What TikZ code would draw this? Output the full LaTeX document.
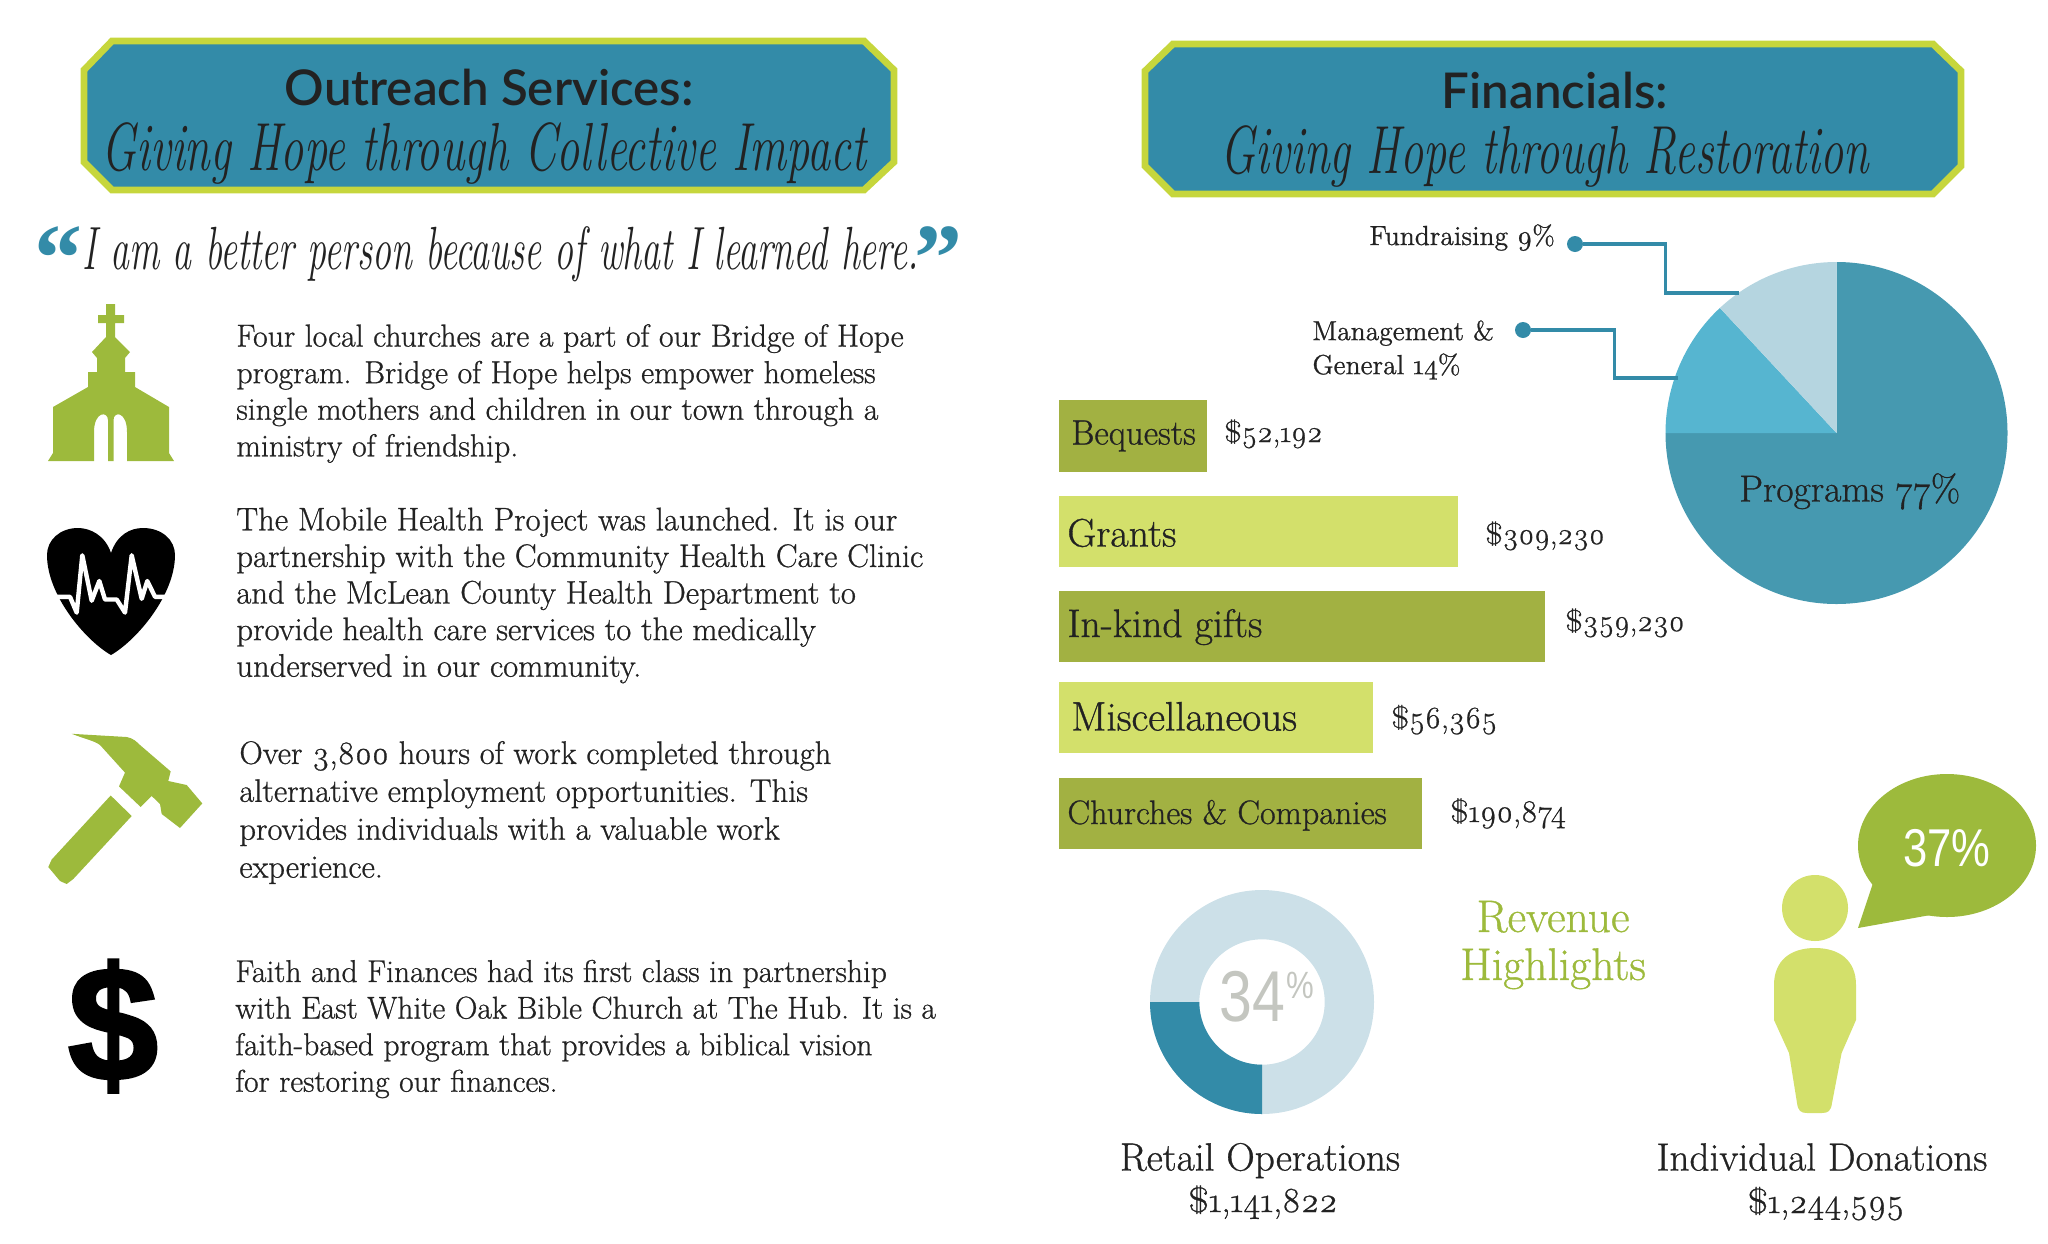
\documentclass[tikz,border=0pt]{standalone}
\usepackage{fontspec}
\setmainfont{Latin Modern Roman}[Numbers=OldStyle,FakeBold=0.8]
\newfontfamily\titlefont{Lato Semibold}
\newfontfamily\handfont{Latin Modern Roman}[FakeStretch=0.62]
\newfontfamily\handwide{Latin Modern Roman}[FakeStretch=0.68]
\newfontfamily\narrowfont{Liberation Sans}[FakeStretch=0.82]
\newfontfamily\quotefont{Liberation Serif}
\newfontfamily\iconfont{Liberation Sans}[FakeBold=2]
\definecolor{teal}{HTML}{338BA8}
\definecolor{lime}{HTML}{C6D63C}
\definecolor{olive}{HTML}{A2B142}
\definecolor{pale}{HTML}{D3E06B}
\definecolor{leaf}{HTML}{9DBA3C}
\definecolor{ink}{HTML}{222222}
\definecolor{pieMain}{HTML}{4699B0}
\definecolor{pieMid}{HTML}{56B5D0}
\definecolor{pieLight}{HTML}{B5D5E0}
\definecolor{ring}{HTML}{CCE0E8}
\definecolor{ash}{HTML}{C4C6C0}
\begin{document}
\begin{tikzpicture}
  [x=0.5pt, y=-0.5pt,
   banner/.style={fill=teal, draw=lime, line width=3.4pt, line join=miter},
   title/.style={font=\titlefont\fontsize{24.6}{28}\selectfont, text=ink, anchor=base, inner sep=0},
   hand/.style={font=\handwide\itshape\fontsize{34}{38}\selectfont, text=ink, anchor=base, inner sep=0},
   quote mark/.style={font=\quotefont\bfseries\fontsize{48}{48}\selectfont, text=teal, anchor=base, inner sep=0},
   body text/.style={text=ink, align=left, anchor=west, inner sep=0},
   bar dark/.style={fill=olive},
   bar pale/.style={fill=pale},
   label/.style={text=ink, anchor=base west, inner sep=0},
   dot/.style={circle, fill=teal, minimum size=8pt, inner sep=0},
   leader/.style={draw=teal, line width=1.8pt}]
  \useasboundingbox (0, 0) rectangle (2048, 1243);

  \draw[banner] (112, 41) -- (864, 41) -- (894, 70) -- (894, 162) -- (864, 190) -- (112, 190) -- (84, 162) -- (84, 70) -- cycle;
  \draw[banner] (1173, 44) -- (1933, 44) -- (1961, 71) -- (1961, 166) -- (1933, 194) -- (1173, 194) -- (1145, 166) -- (1145, 71) -- cycle;
  \node[title] (outreachTitle) at (489, 105) {Outreach Services:};
  \node[hand] (outreachHand) at (484, 170) {Giving Hope through Collective Impact};
  \node[title] (financeTitle) at (1555, 108) {Financials:};
  \node[hand] (financeHand) at (1545, 173) {Giving Hope through Restoration};

  \node[quote mark] (quoteOpen) at (58, 290) {“};
  \node[hand, font=\handfont\itshape\fontsize{30.5}{34}\selectfont] (quoteText) at (501, 269) {I am a better person because of what I learned here.};
  \node[quote mark] (quoteClose) at (938, 290) {”};

  \fill[leaf] (106, 304) -- (115, 304) -- (115, 315) -- (124, 315) -- (124, 323) -- (115, 323) -- (115, 337) -- (130, 352) -- (125, 358) -- (125, 372) -- (135, 372) -- (135, 387) -- (169, 407) -- (169, 453) -- (174, 461) -- (127, 461) -- (127, 432) .. controls (127, 411) and (113.5, 411) .. (113.5, 420) -- (113.5, 461) -- (108, 461) -- (108, 420) .. controls (108, 411) and (94, 411) .. (94, 432) -- (94, 461) -- (48, 461) -- (53, 453) -- (53, 407) -- (88, 387) -- (88, 372) -- (97, 372) -- (97, 358) -- (92, 352) -- (106, 337) -- (106, 323) -- (98, 323) -- (98, 315) -- (106, 315) -- cycle;
  \node[body text, font=\fontsize{15.9}{18.3}\selectfont] (churchText) at (236, 393.5) {Four local churches are a part of our Bridge of Hope\\program. Bridge of Hope helps empower homeless\\single mothers and children in our town through a\\ministry of friendship.};

  \fill[black] (111, 553) .. controls (105, 535) and (90, 528) .. (78, 528) .. controls (60, 528) and (47, 540) .. (47, 555) .. controls (47, 595) and (85, 640) .. (111, 655) .. controls (137, 640) and (175, 595) .. (175, 555) .. controls (175, 540) and (162, 528) .. (143, 528) .. controls (130, 528) and (117, 535) .. (111, 553) -- cycle;
  \draw[white, line width=2.2pt, line join=round] (56.7, 596.8) -- (70, 596.8) -- (76.7, 612.6) -- (82.3, 555.3) -- (91.7, 600.7) -- (99.3, 581) -- (105, 599.5) -- (116.7, 599.5) -- (125, 612.6) -- (131.7, 555.3) -- (141.7, 598.8) -- (147.3, 581) -- (155, 596.8) -- (166.7, 596.8);
  \node[body text, font=\fontsize{16.3}{18.3}\selectfont] (healthText) at (236, 595.5) {The Mobile Health Project was launched. It is our\\partnership with the Community Health Care Clinic\\and the McLean County Health Department to\\provide health care services to the medically\\underserved in our community.};

  \fill[leaf] (71.7, 733.8) -- (126.7, 737) .. controls (133, 738) and (137, 742) .. (140, 745) -- (170.7, 771.4) -- (168.3, 781) -- (186.7, 785) -- (202.3, 803.4) -- (180, 828) -- (161.7, 814) -- (160, 804) -- (151.7, 796) -- (140.7, 807) -- (119, 786.4) -- (125, 772.6) -- (100, 745) .. controls (95, 741) and (85, 739) .. cycle;
  \fill[leaf] (110.7, 795.5) -- (131.7, 816) -- (73.3, 879) -- (66.7, 884) -- (60, 881) -- (48.3, 867) -- (51.7, 859.5) -- cycle;
  \node[body text, font=\fontsize{16.25}{18.95}\selectfont] (hoursText) at (239, 812.5) {Over 3,800 hours of work completed through\\alternative employment opportunities. This\\provides individuals with a valuable work\\experience.};

  \node[font=\iconfont\bfseries\fontsize{81}{81}\selectfont, text=black, anchor=center, inner sep=0] (dollarIcon) at (113, 1026) {\$};
  \node[body text, font=\fontsize{15.75}{18.3}\selectfont] (faithText) at (235, 1029) {Faith and Finances had its first class in partnership\\with East White Oak Bible Church at The Hub. It is a\\faith-based program that provides a biblical vision\\for restoring our finances.};

  \fill[bar dark] (1059, 400) rectangle (1207, 472);
  \fill[bar pale] (1059, 496) rectangle (1458, 567);
  \fill[bar dark] (1059, 591) rectangle (1545, 662);
  \fill[bar pale] (1059, 682) rectangle (1373, 753);
  \fill[bar dark] (1059, 778) rectangle (1422, 849);
  \node[label, font=\fontsize{17.6}{20}\selectfont] (bequestsLabel) at (1071, 444.5) {Bequests};
  \node[label, font=\fontsize{19.9}{22}\selectfont] (grantsLabel) at (1067, 546.5) {Grants};
  \node[label, font=\fontsize{19.9}{22}\selectfont] (giftsLabel) at (1067, 637) {In-kind gifts};
  \node[label, font=\fontsize{20.6}{22}\selectfont] (miscLabel) at (1071, 730.5) {Miscellaneous};
  \node[label, font=\fontsize{17}{20}\selectfont] (churchesLabel) at (1067, 824) {Churches \& Companies};
  \node[label, font=\fontsize{15}{18}\selectfont] (bequestsValue) at (1224, 442) {\$52,192};
  \node[label, font=\fontsize{15}{18}\selectfont] (grantsValue) at (1485, 544) {\$309,230};
  \node[label, font=\fontsize{15}{18}\selectfont] (giftsValue) at (1565, 631) {\$359,230};
  \node[label, font=\fontsize{15.4}{18}\selectfont] (miscValue) at (1391, 728) {\$56,365};
  \node[label, font=\fontsize{15.8}{18}\selectfont] (churchesValue) at (1450, 822) {\$190,874};

  \fill[pieMain] (1836.5, 433) -- (1836.5, 262) arc[start angle=-90, end angle=180, radius=171] -- cycle;
  \fill[pieMid] (1836.5, 433) -- (1665.5, 433) arc[start angle=-180, end angle=-133, radius=171] -- cycle;
  \fill[pieLight] (1836.5, 433) -- ++(-133:171) arc[start angle=-133, end angle=-90, radius=171] -- cycle;
  \node[label, font=\fontsize{18.8}{20}\selectfont] (programsLabel) at (1739, 501.5) {Programs 77\%};
  \node[label, font=\fontsize{13.8}{15}\selectfont] (fundLabel) at (1369, 245) {Fundraising 9\%};
  \node[label, font=\fontsize{13.8}{17}\selectfont, align=left, anchor=north west] (mgmtLabel) at (1312, 320) {Management \&\\General 14\%};
  \node[dot] (fundDot) at (1575, 244) {};
  \node[dot] (mgmtDot) at (1523, 330) {};
  \coordinate (fundBend) at (1665.5, 293);
  \coordinate (fundEnd) at (1739, 293);
  \coordinate (mgmtBend) at (1614.5, 378);
  \coordinate (mgmtEnd) at (1678, 378);
  \draw[leader] (fundDot) -| (fundBend) -- (fundEnd);
  \draw[leader] (mgmtDot) -| (mgmtBend) -- (mgmtEnd);

  \fill[ring, even odd rule] (1262, 1002) circle (112) (1262, 1002) circle (62.7);
  \fill[teal] (1262, 1114) arc[start angle=90, end angle=180, radius=112] -- (1199.3, 1002) arc[start angle=180, end angle=90, radius=62.7] -- cycle;
  \node[font=\narrowfont\fontsize{36}{36}\selectfont, text=ash, anchor=base, inner sep=0] (donutValue) at (1252, 1021) {34};
  \node[font=\narrowfont\fontsize{19}{19}\selectfont, text=ash, anchor=base, inner sep=0] (donutPercent) at (1300, 998) {\%};
  \node[label, font=\fontsize{22.8}{24}\selectfont, text=leaf, align=center, anchor=center] (revenueLabel) at (1553, 945) {Revenue\\Highlights};

  \fill[pale] (1815, 908) circle (33);
  \fill[pale] (1774, 985) .. controls (1774, 960) and (1791, 948) .. (1815, 948) .. controls (1839, 948) and (1856, 960) .. (1856, 985) -- (1856, 1020) -- (1841.6, 1053) -- (1832, 1103) .. controls (1831, 1111) and (1828, 1113) .. (1822, 1113) -- (1807, 1113) .. controls (1801, 1113) and (1798, 1111) .. (1797, 1103) -- (1789, 1053) -- (1774, 1020) -- cycle;
  \fill[leaf] (1947, 845.5) ellipse (89 and 71.5);
  \fill[leaf] (1858, 928) -- (1874, 880) -- (1936, 914) -- cycle;
  \node[font=\narrowfont\fontsize{26.6}{27}\selectfont, text=white, anchor=center, inner sep=0] (bubbleValue) at (1947, 848) {37\%};

  \node[label, font=\fontsize{19.7}{22}\selectfont, anchor=base] (retailLabel) at (1260, 1170.5) {Retail Operations};
  \node[label, font=\fontsize{17.6}{20}\selectfont, anchor=base] (retailValue) at (1263, 1212) {\$1,141,822};
  \node[label, font=\fontsize{19.6}{22}\selectfont, anchor=base] (donationsLabel) at (1822, 1170.5) {Individual Donations};
  \node[label, font=\fontsize{17.4}{20}\selectfont, anchor=base] (donationsValue) at (1826, 1213) {\$1,244,595};
\end{tikzpicture}
\end{document}
